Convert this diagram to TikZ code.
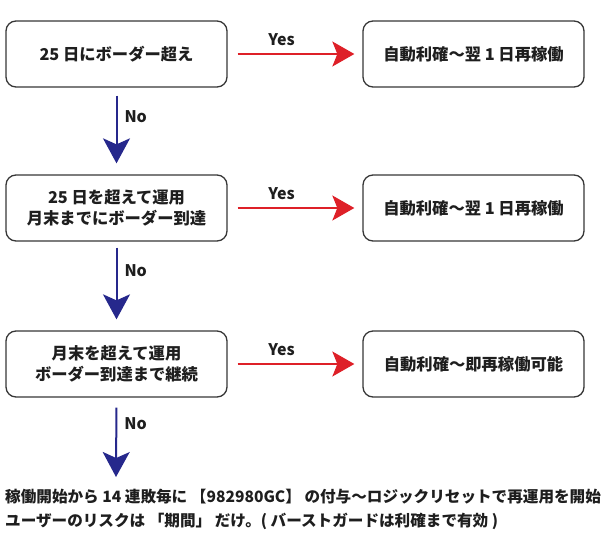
\documentclass[tikz,border=0pt]{standalone}
\usepackage{fontspec}
\setmainfont{Noto Sans CJK JP}[BoldFont={Noto Sans CJK JP Black}]
\usetikzlibrary{arrows.meta}
\definecolor{yesred}{RGB}{222,32,40}
\definecolor{noblue}{RGB}{38,40,140}
\definecolor{boxline}{RGB}{55,55,55}
\definecolor{txt}{RGB}{30,30,30}
\begin{document}
\begin{tikzpicture}[x=1pt,y=-1pt,
  flowbox/.style={draw=boxline,line width=1.3pt,rounded corners=10pt,fill=white,
    minimum width=221pt,minimum height=66pt,inner sep=0pt,align=center,
    text=txt,font=\fontsize{16.3}{21.5}\selectfont\bfseries},
  yesarrow/.style={draw=yesred,line width=2pt,-{Stealth[length=22pt,width=25pt,inset=5pt]}},
  noarrow/.style={draw=noblue,line width=2pt,-{Stealth[length=25pt,width=27pt,inset=6pt]}},
  lbl/.style={text=txt,font=\fontsize{16}{19}\selectfont\bfseries,inner sep=0pt},
  note/.style={text=txt,font=\fontsize{15.6}{19}\selectfont\bfseries,inner sep=0pt,anchor=west}]
\useasboundingbox (0,0) rectangle (609,554);
\node[flowbox] (b1) at (116.5,54) {25 日にボーダー超え};
\node[flowbox] (r1) at (473.5,54) {自動利確～翌 1 日再稼働};
\node[flowbox] (b2) at (116.5,208) {25 日を超えて運用\\月末までにボーダー到達};
\node[flowbox] (r2) at (473.5,208) {自動利確～翌 1 日再稼働};
\node[flowbox] (b3) at (116.5,364) {月末を超えて運用\\ボーダー到達まで継続};
\node[flowbox] (r3) at (473.5,364) {自動利確～即再稼働可能};
\node[note] (t1) at (5,497) {稼働開始から 14 連敗毎に 【982980GC】 の付与～ロジックリセットで再運用を開始};
\node[note] (t2) at (5,521) {ユーザーのリスクは 「期間」 だけ。( バーストガードは利確まで有効 )};
\coordinate (e3) at (116,477);
\draw[yesarrow,shorten <=10pt,shorten >=8pt] (b1.east) -- node[lbl,pos=0.4,yshift=14pt]{Yes} (r1.west);
\draw[yesarrow,shorten <=10pt,shorten >=8pt] (b2.east) -- node[lbl,pos=0.4,yshift=14pt]{Yes} (r2.west);
\draw[yesarrow,shorten <=10pt,shorten >=8pt] (b3.east) -- node[lbl,pos=0.4,yshift=14pt]{Yes} (r3.west);
\draw[noarrow,shorten <=8pt,shorten >=11pt] (b1.south) -- node[lbl,pos=0.33,anchor=west,xshift=7pt]{No} (b2.north);
\draw[noarrow,shorten <=6pt,shorten >=11pt] (b2.south) -- node[lbl,pos=0.33,anchor=west,xshift=7pt]{No} (b3.north);
\draw[noarrow,shorten <=10pt] (b3.south) -- node[lbl,pos=0.33,anchor=west,xshift=7pt]{No} (e3);
\end{tikzpicture}
\end{document}
